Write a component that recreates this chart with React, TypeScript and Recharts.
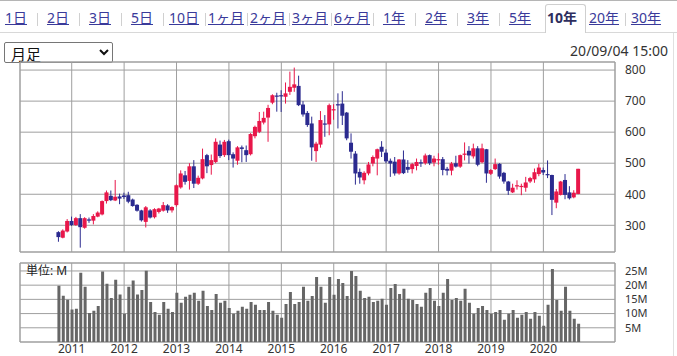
import React from 'react';
import { ComposedChart, Bar, XAxis, YAxis, CartesianGrid, ReferenceArea } from 'recharts';

const UP = '#e8174a';
const DOWN = '#2b2a8f';
const GRID = '#9f9f9f';
const VOL = '#666666';
const FONT = '"Noto Sans", "Noto Sans CJK JP", sans-serif';

const TABS = ['1日', '2日', '3日', '5日', '10日', '1ヶ月', '2ヶ月', '3ヶ月', '6ヶ月', '1年', '2年', '3年', '5年', '10年', '20年', '30年'];
const ACTIVE_TAB = '10年';
const TIMESTAMP = '20/09/04 15:00';

// monthly candles, first one is Oct 2010
const FIRST_YEAR = 2010;
const FIRST_MONTH = 10;

const OPEN = [
  278, 260, 280,
  314, 301, 323, 292, 319, 315, 328, 335, 378, 395, 380, 393,
  396, 397, 383, 366, 348, 311, 348, 326, 343, 347, 364, 348,
  365, 422, 461, 443, 490, 434, 451, 526, 494, 504, 560, 526,
  571, 529, 508, 551, 542, 529, 587, 601, 631, 647, 695, 718,
  719, 714, 730, 743, 749, 689, 662, 628, 539, 560, 628, 625,
  670, 690, 692, 663, 566, 531, 472, 445, 467, 499, 515, 553,
  534, 508, 505, 467, 512, 488, 481, 491, 503, 500, 526, 502,
  510, 513, 482, 476, 500, 489, 527, 540, 522, 548, 503, 545,
  466, 481, 498, 469, 441, 406, 426, 425, 421, 441, 448, 465,
  478, 465, 462, 373, 398, 446, 406, 390, 401,
];
const HIGH = [
  281, 287, 320,
  328, 327, 336, 326, 325, 336, 345, 380, 412, 412, 446, 402,
  405, 408, 386, 368, 350, 362, 352, 355, 356, 375, 368, 361,
  432, 477, 475, 500, 510, 460, 547, 530, 528, 580, 573, 575,
  576, 535, 555, 557, 557, 597, 621, 665, 666, 688, 722, 727,
  735, 760, 795, 808, 782, 700, 668, 650, 569, 668, 655, 692,
  690, 725, 732, 665, 596, 539, 483, 474, 504, 525, 547, 571,
  545, 515, 520, 513, 541, 510, 501, 515, 512, 531, 528, 524,
  532, 520, 488, 504, 524, 528, 567, 555, 563, 555, 563, 546,
  481, 515, 500, 472, 443, 434, 445, 434, 456, 456, 483, 498,
  486, 509, 463, 417, 443, 465, 426, 413, 482,
];
const LOW = [
  247, 258, 277,
  298, 298, 228, 289, 308, 303, 326, 332, 370, 378, 378, 368,
  385, 371, 360, 344, 312, 293, 322, 322, 338, 344, 340, 341,
  360, 418, 431, 415, 420, 430, 448, 468, 463, 500, 517, 520,
  510, 486, 495, 503, 504, 525, 580, 597, 625, 569, 690, 666,
  665, 692, 720, 730, 684, 650, 617, 508, 504, 550, 585, 590,
  640, 612, 623, 574, 515, 431, 434, 432, 461, 490, 461, 520,
  500, 456, 460, 463, 465, 469, 467, 477, 488, 495, 494, 490,
  495, 461, 461, 461, 486, 485, 509, 499, 515, 490, 500, 437,
  462, 478, 450, 434, 398, 404, 415, 397, 408, 436, 437, 458,
  462, 452, 333, 355, 396, 384, 383, 387, 400,
];
const CLOSE = [
  262, 283, 314,
  301, 323, 294, 323, 315, 330, 341, 378, 406, 381, 392, 386,
  391, 376, 362, 347, 316, 358, 325, 352, 354, 365, 348, 359,
  429, 467, 440, 490, 434, 453, 513, 490, 510, 569, 523, 569,
  526, 515, 551, 546, 526, 594, 617, 636, 646, 678, 719, 715,
  716, 725, 746, 754, 687, 657, 623, 551, 563, 639, 625, 687,
  674, 687, 653, 580, 537, 467, 454, 469, 496, 520, 545, 537,
  506, 499, 467, 512, 468, 479, 497, 504, 501, 525, 500, 515,
  513, 478, 476, 499, 489, 526, 531, 525, 548, 495, 548, 467,
  478, 497, 457, 441, 411, 421, 429, 427, 438, 452, 471, 486,
  470, 462, 382, 409, 441, 398, 387, 405, 482,
];
// volume, millions of shares
const VOLUME = [
  19.8, 16.3, 14.9,
  11.4, 11.7, 24.4, 19.4, 10.2, 11.0, 12.7, 24.8, 20.5, 15.5, 21.9, 16.7,
  9.9, 19.4, 21.6, 16.7, 18.3, 25.1, 14.1, 10.6, 9.6, 14.1, 11.7, 10.6,
  17.3, 13.8, 15.9, 16.6, 17.3, 14.5, 18.0, 12.7, 11.3, 16.9, 13.8, 14.5,
  12.0, 9.9, 11.0, 12.4, 11.7, 14.1, 13.1, 11.3, 11.3, 14.1, 11.0, 9.6,
  8.5, 13.4, 17.6, 13.4, 14.1, 19.4, 14.5, 16.2, 22.9, 19.4, 13.8, 22.9,
  16.6, 22.2, 20.8, 16.2, 25.0, 23.2, 18.0, 15.5, 15.9, 14.1, 14.5, 15.2,
  13.1, 19.0, 20.4, 16.9, 18.7, 15.2, 14.8, 13.4, 12.4, 17.3, 19.0, 14.5,
  12.7, 17.3, 22.2, 14.8, 15.5, 14.5, 18.7, 13.8, 9.9, 12.0, 12.7, 11.3,
  9.9, 10.6, 11.3, 7.8, 9.9, 11.3, 8.5, 9.6, 10.6, 8.2, 10.6, 9.2,
  5.7, 13.1, 25.7, 14.8, 11.0, 19.4, 11.0, 8.2, 6.4,
];

const YEARS = [2011, 2012, 2013, 2014, 2015, 2016, 2017, 2018, 2019, 2020];
const PRICE_TICKS = [300, 400, 500, 600, 700, 800];
const VOLUME_TICKS = [5, 10, 15, 20, 25];

const X_DOMAIN: [number, number] = [-8.84, 127.4];
const PRICE_DOMAIN: [number, number] = [214, 826];
const VOLUME_DOMAIN: [number, number] = [0, 27.8];

const data = OPEN.map((o, i) => ({
  i,
  o,
  h: HIGH[i],
  l: LOW[i],
  c: CLOSE[i],
  range: [LOW[i], HIGH[i]],
  v: VOLUME[i],
}));

const yearTicks = YEARS.map((y) => (y - FIRST_YEAR) * 12 + (1 - FIRST_MONTH));
const yearLabel = (t: number) => String(FIRST_YEAR + Math.floor((t + FIRST_MONTH - 1) / 12));

const Candle = (props: any) => {
  const { x, y, width, height } = props;
  const p = props.payload ?? props;
  const { o, h, l, c } = p;
  if (height == null || h === l) return null;
  const ppu = height / (h - l);
  const cx = x + width / 2;
  const top = y + (h - Math.max(o, c)) * ppu;
  const bot = y + (h - Math.min(o, c)) * ppu;
  const color = c >= o ? UP : DOWN;
  return (
    <g>
      <line x1={cx} x2={cx} y1={y} y2={y + height} stroke={color} strokeWidth={1} />
      <rect x={cx - 2} y={top} width={4} height={Math.max(1.2, bot - top)} fill={color} />
    </g>
  );
};

function Header() {
  return (
    <>
      <div style={{ position: 'absolute', left: 0, top: 0, width: 677, height: 1, background: '#b5b5b5' }} />
      <div style={{ position: 'absolute', left: 0, top: 32, width: 677, height: 1, background: '#d8d8d8' }} />
      {TABS.map((t, k) => {
        const left = -5 + 42 * k;
        const active = t === ACTIVE_TAB;
        return (
          <React.Fragment key={t}>
            {active && (
              <div
                style={{
                  position: 'absolute', left: left + 4, top: 4, width: 41, height: 29,
                  border: '1px solid #cfcfcf', borderBottom: 'none', background: '#fff',
                  borderRadius: '3px 3px 0 0', boxSizing: 'border-box',
                }}
              />
            )}
            <div
              style={{
                position: 'absolute', left, top: 8, width: 42, textAlign: 'center',
                fontSize: 14, lineHeight: '20px', fontFamily: FONT,
                color: active ? '#2e2e5e' : '#3a3a9a',
                fontWeight: active ? 700 : 400,
                textDecoration: active ? 'none' : 'underline',
              }}
            >
              {t}
            </div>
            {k < TABS.length - 1 && !active && TABS[k + 1] !== ACTIVE_TAB && (
              <div style={{ position: 'absolute', left: left + 42, top: 13, width: 1, height: 13, background: '#d0d0d0' }} />
            )}
          </React.Fragment>
        );
      })}
      <div style={{ position: 'absolute', left: 673, top: 33, width: 1, height: 323, background: '#e0e0e0' }} />
      <select
        defaultValue="月足"
        style={{
          position: 'absolute', left: 4, top: 42, width: 109, height: 21, fontSize: 15,
          fontFamily: FONT, padding: '0 2px', boxSizing: 'border-box', color: '#111',
          border: '1px solid #767676', borderRadius: 2, background: '#fff',
        }}
      >
        <option value="月足">月足</option>
      </select>
      <div
        style={{
          position: 'absolute', left: 468, top: 41, width: 200, textAlign: 'right',
          fontSize: 14, lineHeight: '20px', fontFamily: FONT, color: '#333',
        }}
      >
        {TIMESTAMP}
      </div>
    </>
  );
}

export default function App() {
  const tick = { fontSize: 12, fill: '#333', fontFamily: FONT };
  const volTick = { fontSize: 11, fill: '#333', fontFamily: FONT };
  return (
    <div style={{ position: 'absolute', left: 0, top: 0, width: 677, height: 356, background: '#fff', overflow: 'hidden' }}>
      <Header />
      <div style={{ position: 'absolute', left: 0, top: 50 }}>
        <ComposedChart width={677} height={210} data={data} margin={{ top: 12, right: 22, left: 20, bottom: 8 }}>
          <CartesianGrid stroke={GRID} />
          <XAxis dataKey="i" type="number" domain={X_DOMAIN} ticks={yearTicks} hide />
          <YAxis
            orientation="right"
            domain={PRICE_DOMAIN}
            ticks={PRICE_TICKS}
            interval={0}
            width={40}
            axisLine={false}
            tickLine={false}
            tickSize={0}
            tickMargin={10}
            tick={tick}
            allowDataOverflow
          />
          <ReferenceArea x1={X_DOMAIN[0]} x2={X_DOMAIN[1]} y1={PRICE_DOMAIN[0]} y2={PRICE_DOMAIN[1]} fill="none" stroke={GRID} />
          <Bar dataKey="range" barSize={4} shape={<Candle />} isAnimationActive={false} />
        </ComposedChart>
      </div>
      <div style={{ position: 'absolute', left: 0, top: 258 }}>
        <ComposedChart width={677} height={98} data={data} margin={{ top: 5, right: 22, left: 20, bottom: 0 }}>
          <CartesianGrid stroke={GRID} />
          <XAxis
            dataKey="i"
            type="number"
            domain={X_DOMAIN}
            ticks={yearTicks}
            interval={0}
            tickFormatter={yearLabel}
            height={14}
            axisLine={false}
            tickLine={false}
            tickSize={0}
            tickMargin={2}
            tick={tick}
          />
          <YAxis
            orientation="right"
            domain={VOLUME_DOMAIN}
            ticks={VOLUME_TICKS}
            interval={0}
            tickFormatter={(v: number) => `${v}M`}
            width={40}
            axisLine={false}
            tickLine={false}
            tickSize={0}
            tickMargin={10}
            tick={volTick}
            allowDataOverflow
          />
          <ReferenceArea x1={X_DOMAIN[0]} x2={X_DOMAIN[1]} y1={VOLUME_DOMAIN[0]} y2={VOLUME_DOMAIN[1]} fill="none" stroke={GRID} />
          <Bar dataKey="v" barSize={3} fill={VOL} isAnimationActive={false} />
        </ComposedChart>
      </div>
      <div
        style={{
          position: 'absolute', left: 26, top: 264, fontSize: 12, lineHeight: '14px',
          fontFamily: FONT, color: '#222',
        }}
      >
        単位: M
      </div>
    </div>
  );
}
